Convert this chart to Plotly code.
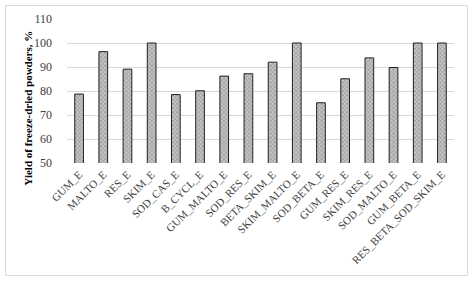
import plotly.graph_objects as go

categories = ["GUM_E", "MALTO_E", "RES_E", "SKIM_E", "SOD_CAS_E", "B_CYCL_E",
              "GUM_MALTO_E", "SOD_RES_E", "BETA_SKIM_E", "SKIM_MALTO_E",
              "SOD_BETA_E", "GUM_RES_E", "SKIM_RES_E", "SOD_MALTO_E",
              "GUM_BETA_E", "RES_BETA_SOD_SKIM_E"]
yields = [78.7, 96.4, 89.1, 100, 78.5, 80.1, 86.2, 87.2, 92.0, 100,
          75.1, 85.1, 93.8, 89.8, 100, 100]
y_ticks = [50, 60, 70, 80, 90, 100, 110]

FONT = "Liberation Serif, Times New Roman, serif"

fig = go.Figure(go.Bar(
    x=categories, y=yields, width=0.36,
    marker=dict(
        color="#b0b0b0",
        line=dict(color="#202020", width=1),
        pattern=dict(shape="x", size=3, solidity=0.4, fgcolor="#606060", bgcolor="#c4c4c4"),
    ),
))

fig.update_layout(
    width=474, height=281,
    margin=dict(l=67, r=20, t=19, b=118),
    paper_bgcolor="white", plot_bgcolor="white",
    showlegend=False,
    bargap=0.64,
    xaxis=dict(
        tickangle=-45, tickfont=dict(family=FONT, size=11, color="#404040"),
        showgrid=False, showline=False, ticks="", ticklabelstandoff=2,
    ),
    yaxis=dict(
        range=[50, 110], tickvals=y_ticks,
        tickfont=dict(family=FONT, size=12, color="#404040"),
        showgrid=True, gridcolor="#d9d9d9", gridwidth=1,
        zeroline=False, showline=False, ticks="", ticklabelstandoff=14,
    ),
    shapes=[dict(type="rect", xref="paper", yref="paper",
                 x0=-0.159, x1=1.035, y0=-0.781, y1=1.094,
                 line=dict(color="#d9d9d9", width=1), layer="below")],
    annotations=[dict(
        text="<b>Yield of freeze-dried powders, %</b>", textangle=-90,
        xref="paper", yref="paper", x=-0.122, y=0.383,
        showarrow=False, font=dict(family=FONT, size=11, color="#000000"),
    )],
)

fig.write_html("out.html")
